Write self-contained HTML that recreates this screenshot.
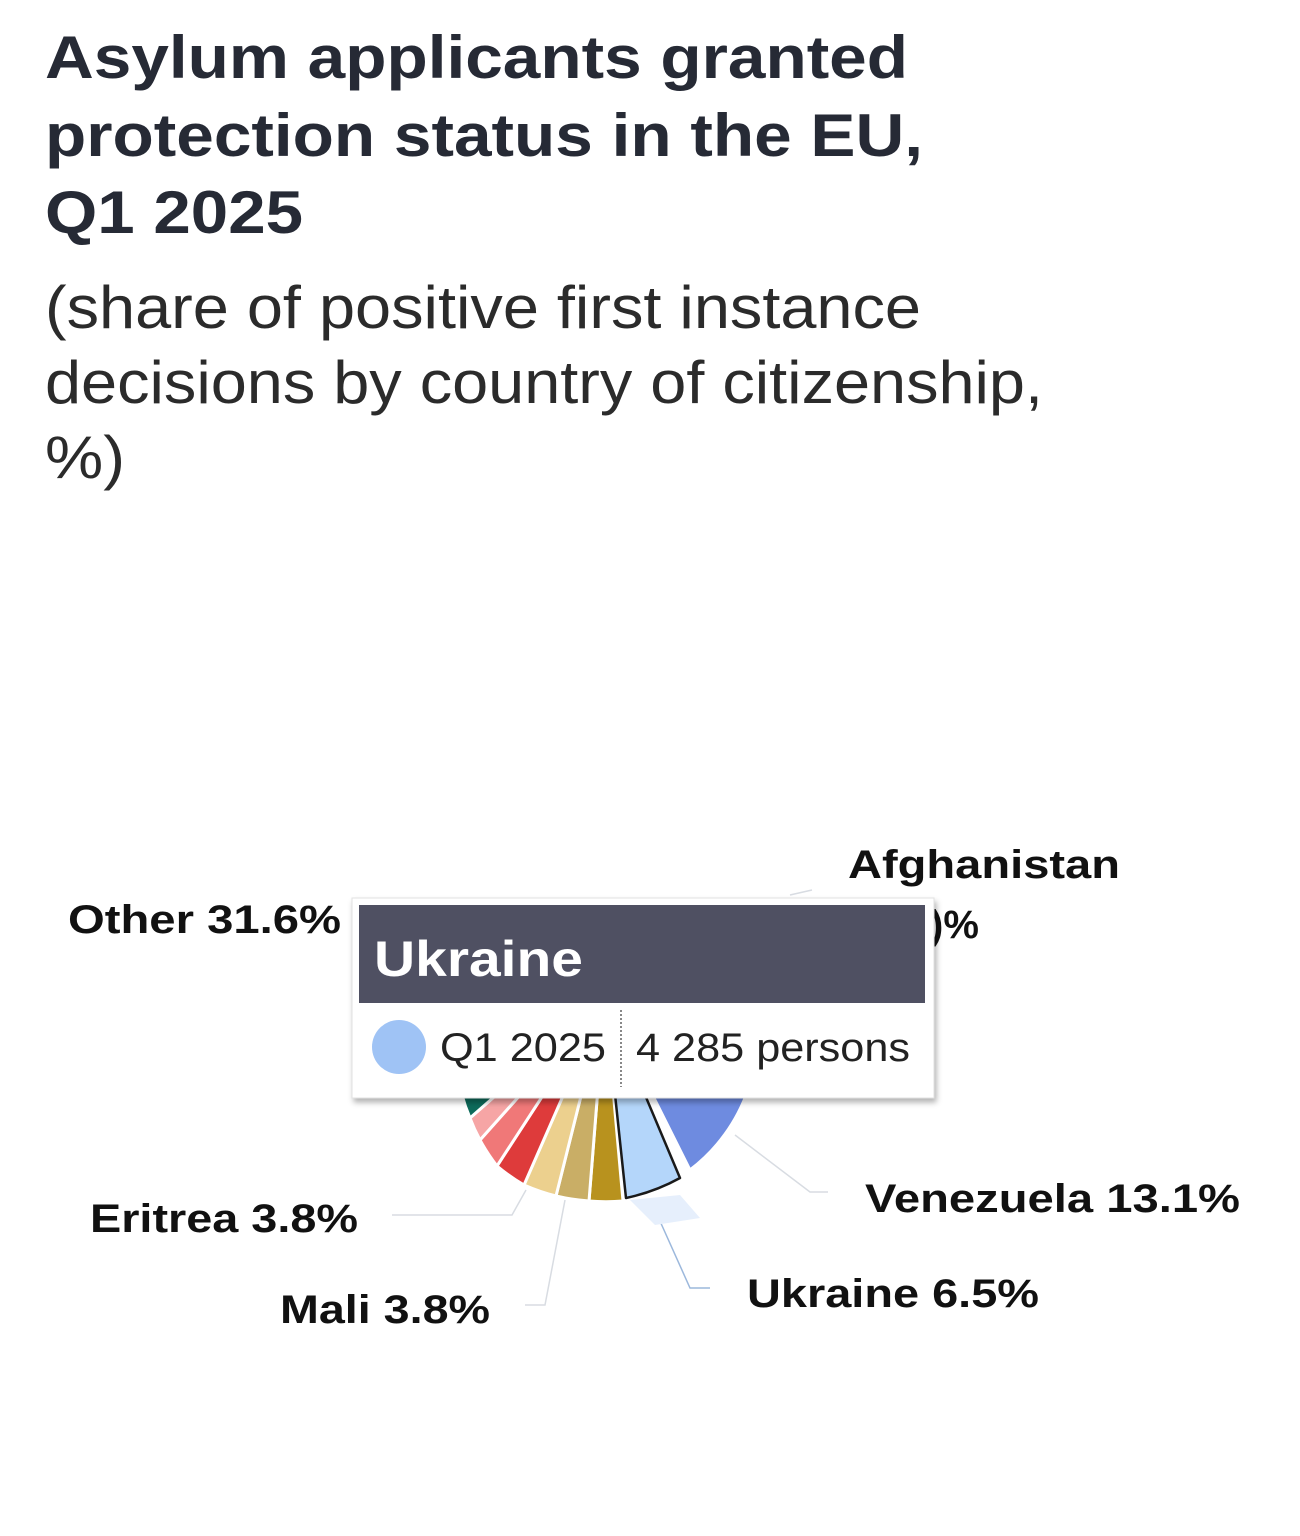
<!DOCTYPE html>
<html><head><meta charset="utf-8"><style>
html,body{margin:0;padding:0;background:#fff;}
svg{display:block;}
text{font-family:"Liberation Sans",Arial,sans-serif;}
</style></head><body>
<svg width="1300" height="1536" viewBox="0 0 1300 1536" xmlns="http://www.w3.org/2000/svg">
<g fill="#262a35" font-weight="bold" font-size="60">
<text x="45" y="78" textLength="863" lengthAdjust="spacingAndGlyphs">Asylum applicants granted</text>
<text x="45" y="156" textLength="878" lengthAdjust="spacingAndGlyphs">protection status in the EU,</text>
<text x="45" y="233" textLength="258" lengthAdjust="spacingAndGlyphs">Q1 2025</text>
</g>
<g fill="#2b2b2b" font-size="60">
<text x="45" y="328" textLength="876" lengthAdjust="spacingAndGlyphs">(share of positive first instance</text>
<text x="45" y="403" textLength="998" lengthAdjust="spacingAndGlyphs">decisions by country of citizenship,</text>
<text x="45" y="478" textLength="80" lengthAdjust="spacingAndGlyphs">%)</text>
</g>

<!-- connector lines -->
<g fill="none" stroke="#d8dce2" stroke-width="1.5">
<path d="M735 1135 L810 1192 L828 1192"/>
<path d="M526 1190 L512 1215 L392 1215"/>
<path d="M565 1200 L545 1305 L525 1305"/>
<path d="M790 895 L812 890"/>
</g>
<path d="M655 1210 L690 1288 L710 1288" fill="none" stroke="#9cb8dc" stroke-width="1.5"/>

<!-- pie slices (center 605,1000) -->
<g stroke="#fff" stroke-width="3" stroke-linejoin="round">
<path d="M605 1000 L748 1090 A170 170 0 0 1 690 1170 Z" fill="#6e8be0"/>
<path d="M605 1000 L589 1201 A200 200 0 0 0 623 1201 Z" fill="#b8921e"/>
<path d="M605 1000 L556 1196 A200 200 0 0 0 589 1201 Z" fill="#c9ae66"/>
<path d="M605 1000 L524 1185 A200 200 0 0 0 556 1196 Z" fill="#ecd08e"/>
<path d="M605 1000 L497 1166 A190 190 0 0 0 524 1185 Z" fill="#de3b3b"/>
<path d="M605 1000 L480 1140 A190 190 0 0 0 497 1166 Z" fill="#f07878"/>
<path d="M605 1000 L470 1118 A180 180 0 0 0 480 1140 Z" fill="#f6a5a5"/>
<path d="M605 1000 L462 1095 A175 175 0 0 0 470 1118 Z" fill="#0d6a5a"/>
</g>
<path d="M630 1200 L655 1225 L700 1218 L680 1195 Z" fill="#e6effc"/>
<path d="M605 1000 L680 1178 A195 195 0 0 1 626 1198 Z" fill="#b4d6fa" stroke="#1a1a1a" stroke-width="2.5" stroke-linejoin="round"/>

<!-- labels -->
<g fill="#111" font-weight="bold" font-size="40">
<text x="848" y="878" textLength="272" lengthAdjust="spacingAndGlyphs">Afghanistan</text>
<text x="930" y="938">)%</text>
<text x="68" y="933" textLength="273" lengthAdjust="spacingAndGlyphs">Other 31.6%</text>
<text x="865" y="1212" textLength="375" lengthAdjust="spacingAndGlyphs">Venezuela 13.1%</text>
<text x="90" y="1232" textLength="268" lengthAdjust="spacingAndGlyphs">Eritrea 3.8%</text>
<text x="280" y="1323" textLength="210" lengthAdjust="spacingAndGlyphs">Mali 3.8%</text>
<text x="747" y="1307" textLength="292" lengthAdjust="spacingAndGlyphs">Ukraine 6.5%</text>
</g>

<!-- tooltip -->
<defs><filter id="sh" x="-10%" y="-10%" width="120%" height="130%"><feDropShadow dx="2" dy="4" stdDeviation="3" flood-color="#000" flood-opacity="0.3"/></filter></defs>
<rect x="352" y="898" width="582" height="200" fill="#fff" stroke="#e2e2e2" filter="url(#sh)"/>
<rect x="359" y="905" width="566" height="98" fill="#4f5062"/>
<text x="374" y="976" fill="#fff" font-weight="bold" font-size="50" textLength="209" lengthAdjust="spacingAndGlyphs">Ukraine</text>
<circle cx="399" cy="1047" r="27" fill="#9fc3f5"/>
<g fill="#222" font-size="40">
<text x="440" y="1061" textLength="166" lengthAdjust="spacingAndGlyphs">Q1 2025</text>
<text x="636" y="1061" textLength="274" lengthAdjust="spacingAndGlyphs">4 285 persons</text>
</g>
<line x1="621" y1="1010" x2="621" y2="1087" stroke="#888" stroke-width="2" stroke-dasharray="2,2"/>
</svg>
</body></html>
